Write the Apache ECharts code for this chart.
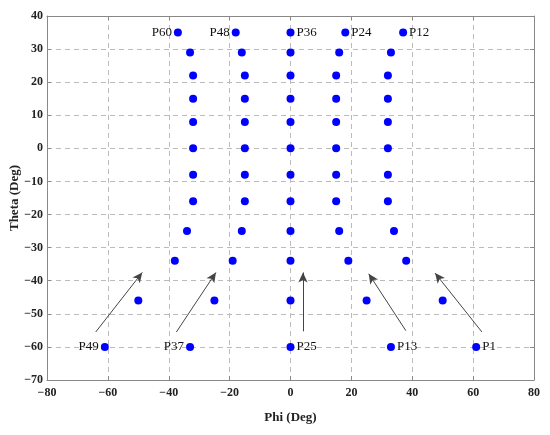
<!DOCTYPE html>
<html>
<head>
<meta charset="utf-8">
<script src="https://cdn.jsdelivr.net/npm/echarts@6/dist/echarts.min.js"></script>
<style>
  html, body { margin: 0; padding: 0; background: #fff; }
  #echart { width: 550px; height: 435px; }
</style>
</head>
<body>
<div id="echart"></div>
<script>
// theta rows, bottom to top (same for every column)
var thetaRows = [-60, -46, -34, -25, -16, -8, 0, 8, 15, 22, 29, 35];
// phi of each point, one list per column (P49..P60, P37..P48, P25..P36, P13..P24, P1..P12)
var phiCol1 = [-61, -50, -38, -34, -32, -32, -32, -32, -32, -32, -33, -37];
var phiCol2 = [-33, -25, -19, -16, -15, -15, -15, -15, -15, -15, -16, -18];
var phiCol3 = [0, 0, 0, 0, 0, 0, 0, 0, 0, 0, 0, 0];
var phiCol4 = [33, 25, 19, 16, 15, 15, 15, 15, 15, 15, 16, 18];
var phiCol5 = [61, 50, 38, 34, 32, 32, 32, 32, 32, 32, 33, 37];
// labels on the bottom and top point of each column
var bottomNames = ['P49', 'P37', 'P25', 'P13', 'P1'];
var topNames = ['P60', 'P48', 'P36', 'P24', 'P12'];
var labelSide = ['left', 'left', 'right', 'right', 'right'];
// arrows: [from phi, from theta, to phi, to theta]
var arrows = [
    [-64, -55.5, -48.7, -37.5],
    [-37.5, -55.5, -24.5, -37.5],
    [4.1, -55.3, 4.1, -37.5],
    [37.9, -55.1, 25.7, -37.9],
    [62.9, -55.5, 47.5, -37.7]
];
var xTicks = [-80, -60, -40, -20, 0, 20, 40, 60, 80];
var yTicks = [-70, -60, -50, -40, -30, -20, -10, 0, 10, 20, 30, 40];

var serif = '"Liberation Serif", "DejaVu Serif", serif';
var columns = [phiCol1, phiCol2, phiCol3, phiCol4, phiCol5];

var points = [];
columns.forEach(function (col, c) {
    col.forEach(function (phi, i) {
        var item = { value: [phi, thetaRows[i]] };
        var name = null;
        if (i === 0) name = bottomNames[c];
        if (i === col.length - 1) name = topNames[c];
        if (name) {
            item.name = name;
            item.label = {
                show: true,
                position: labelSide[c],
                distance: 2,
                formatter: '{b}',
                color: '#111',
                fontFamily: serif,
                fontSize: 13
            };
        }
        points.push(item);
    });
});

var arrowData = arrows.map(function (a) {
    return [{ coord: [a[0], a[1]] }, { coord: [a[2], a[3]] }];
});

// minus sign like the original
function tickFmt(v) {
    return String(v).replace('-', '\u2212');
}

var axisLabelStyle = {
    color: '#222',
    fontFamily: serif,
    fontSize: 12,
    fontWeight: 'bold',
    formatter: tickFmt
};

var boxAxis = {
    axisLine: { show: true, onZero: false, lineStyle: { color: '#888' } },
    axisTick: { show: true, inside: true, length: 4, lineStyle: { color: '#888' } }
};

var myChart = echarts.init(document.getElementById('echart'));
var option = {
    animation: false,
    grid: {
        left: 47,
        top: 16,
        right: 16,
        bottom: 55,
        containLabel: false,
        outerBoundsMode: 'none'
    },
    xAxis: [{
        type: 'value',
        min: xTicks[0],
        max: xTicks[xTicks.length - 1],
        interval: 20,
        name: 'Phi (Deg)',
        nameLocation: 'middle',
        nameGap: 31,
        nameTextStyle: { color: '#222', fontFamily: serif, fontSize: 13, fontWeight: 'bold' },
        axisLine: boxAxis.axisLine,
        axisTick: boxAxis.axisTick,
        axisLabel: Object.assign({ margin: 7 }, axisLabelStyle),
        splitLine: { show: true, lineStyle: { color: '#bbb', type: [5, 4] } }
    }, {
        type: 'value',
        position: 'top',
        min: xTicks[0],
        max: xTicks[xTicks.length - 1],
        interval: 20,
        axisLine: boxAxis.axisLine,
        axisTick: boxAxis.axisTick,
        axisLabel: { show: false },
        splitLine: { show: false }
    }],
    yAxis: [{
        type: 'value',
        min: yTicks[0],
        max: yTicks[yTicks.length - 1],
        interval: 10,
        name: 'Theta (Deg)',
        nameLocation: 'middle',
        nameGap: 26,
        nameMoveOverlap: false,
        nameTextStyle: { color: '#222', fontFamily: serif, fontSize: 13, fontWeight: 'bold' },
        axisLine: boxAxis.axisLine,
        axisTick: boxAxis.axisTick,
        axisLabel: Object.assign({ margin: 4 }, axisLabelStyle),
        splitLine: { show: true, lineStyle: { color: '#bbb', type: [5, 4] } }
    }, {
        type: 'value',
        position: 'right',
        min: yTicks[0],
        max: yTicks[yTicks.length - 1],
        interval: 10,
        axisLine: boxAxis.axisLine,
        axisTick: boxAxis.axisTick,
        axisLabel: { show: false },
        splitLine: { show: false }
    }],
    series: [{
        type: 'scatter',
        symbolSize: 8,
        itemStyle: { color: '#0000ff', opacity: 1 },
        data: points,
        markLine: {
            silent: true,
            symbol: ['none', 'arrow'],
            symbolSize: [7, 10],
            label: { show: false },
            lineStyle: { color: '#444', width: 1, type: 'solid' },
            data: arrowData
        }
    }]
};
myChart.setOption(option);
</script>
</body>
</html>
